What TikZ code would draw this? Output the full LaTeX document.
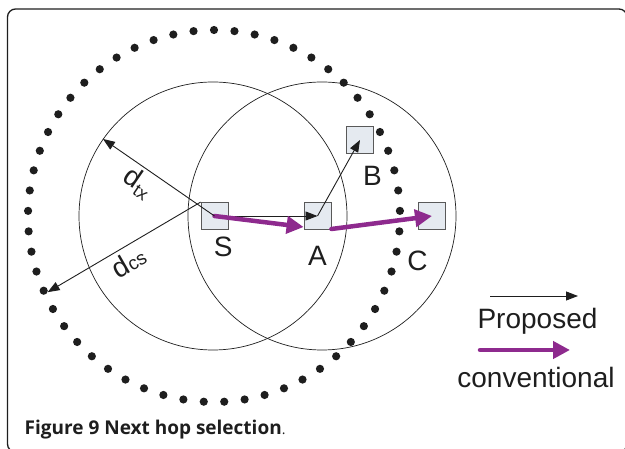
\documentclass[tikz,border=0pt]{standalone}
\usepackage{fontspec}
\setmainfont{Liberation Sans}
\newfontfamily\capfont{Open Sans}
\usetikzlibrary{arrows.meta,calc}
\definecolor{conv}{RGB}{142,42,142}
\definecolor{sqfill}{RGB}{229,234,240}
\definecolor{ink}{RGB}{30,30,30}
\begin{document}
\begin{tikzpicture}[x=1pt,y=-1pt,
  sq/.style={draw=black!65, fill=sqfill, minimum size=27pt, inner sep=0pt, line width=0.8pt},
  lbl/.style={font=\fontsize{28}{30}\selectfont, text=ink, inner sep=0pt},
  prop/.style={ink, line width=0.9pt, -{Triangle[length=12pt,width=9pt]}},
  convarrow/.style={conv, line width=4.5pt, line cap=round, -{Triangle[length=17pt,width=17pt]}},
  ring/.style={circle, draw=ink, line width=0.7pt, inner sep=0pt, minimum size=268pt},
]
\useasboundingbox (0,0) rectangle (625,449);
\draw[line width=1.3pt, ink, rounded corners=8pt] (7.5,9) rectangle (627,452);
% range circles
\node[ring] (cS) at (213,216) {};
\node[ring] (cA) at (322,216) {};
% carrier sense circle (dotted)
\coordinate (O) at (214,216);
\foreach \i in {0,...,56}
  \fill[ink] ($(O)+({90+\i*6.315789}:186pt)$) circle[radius=4.1pt];
\coordinate (cs) at ($(O)+(204.6:183pt)$);
% nodes
\node[sq] (S) at (214.5,216) {};
\node[sq] (A) at (317.5,216) {};
\node[sq] (B) at (360,140) {};
\node[sq] (C) at (432,216) {};
\node[lbl, anchor=base] (lS) at (223.3,256.7) {S};
\node[lbl, anchor=base] (lA) at (317.5,266) {A};
\node[lbl, anchor=base] (lB) at (372.5,186) {B};
\node[lbl, anchor=base] (lC) at (417.5,271) {C};
% distance arrows
\draw[prop] (S.north west) -- (cs);
\node[lbl, rotate=30] (ldcs) at (128.5,262) {d{\fontsize{19}{19}\selectfont cs}};
% proposed (black) arrows
\draw[prop] (S.center) -- (A.center);
\draw[prop] (A.center) -- (B.center);
% conventional (purple) arrows
\draw[convarrow] (S.center) -- ([yshift=-11pt]A.west);
\draw[convarrow] ([yshift=-13pt]A.east) -- (C.center);
\draw[prop] (S.center) -- (cS.145.6);
\node[lbl, rotate=-34.4] (ldtx) at (138,183) {d\raisebox{-5pt}{\fontsize{18}{18}\selectfont tx}};
% legend
\coordinate (p1) at (490,296);
\coordinate (p2) at (578,296);
\draw[prop] (p1) -- (p2);
\node[lbl, anchor=base] (lp) at (537.5,328.3) {Proposed};
\coordinate (c1) at (480,350);
\coordinate (c2) at (570,350);
\draw[convarrow] (c1) -- (c2);
\node[lbl, anchor=base] (lc) at (536,388) {conventional};
% caption
\node[anchor=base west, inner sep=0pt, text=ink, font=\capfont\bfseries\fontsize{19}{20}\selectfont] (cap) at (24.5,435)
  {Figure 9 Next hop selection{\mdseries\fontsize{14}{14}\selectfont.}};
\end{tikzpicture}
\end{document}
